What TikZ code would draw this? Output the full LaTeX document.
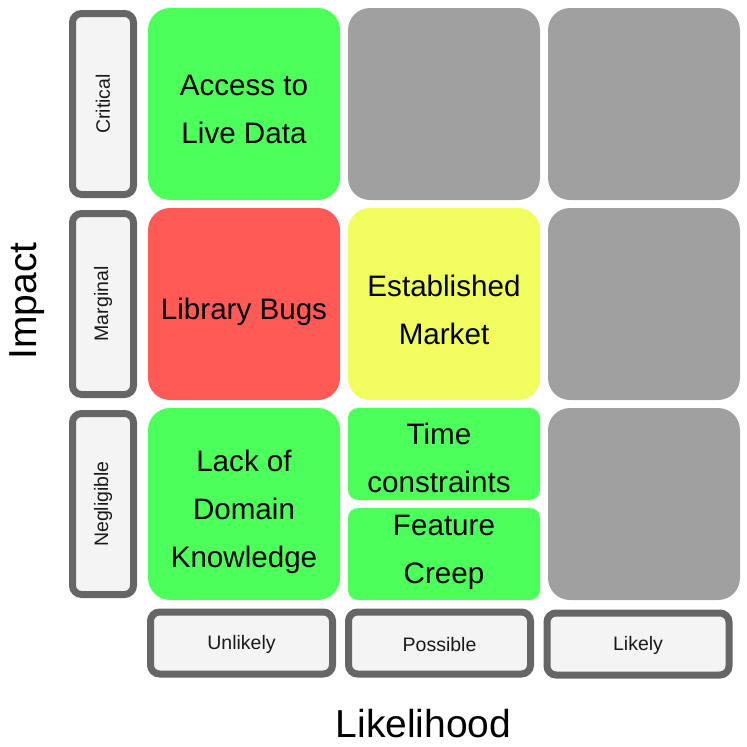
\documentclass[tikz,border=0pt]{standalone}
\usepackage{fontspec}
\setmainfont{Liberation Sans}
\definecolor{cgreen}{RGB}{77,255,90}
\definecolor{cred}{RGB}{255,90,85}
\definecolor{cyellow}{RGB}{240,253,92}
\definecolor{cgray}{RGB}{160,160,160}
\definecolor{lborder}{RGB}{102,102,102}
\definecolor{lfill}{RGB}{244,244,244}
\tikzset{
  cell/.style={rounded corners=22pt, minimum width=192pt, minimum height=192pt, inner sep=0pt, draw=none},
  halfcell/.style={rounded corners=10pt, minimum width=192pt, minimum height=92pt, inner sep=0pt, draw=none, fill=cgreen},
  celltext/.style={font=\fontsize{29.6}{48}\selectfont, align=center, inner sep=0pt},
  rowlab/.style={draw=lborder, fill=lfill, line width=7pt, rounded corners=9pt, minimum width=61pt, minimum height=181pt, inner sep=0pt},
  collab/.style={draw=lborder, fill=lfill, line width=7pt, rounded corners=9pt, minimum width=182pt, minimum height=62pt, inner sep=0pt},
  labtext/.style={font=\fontsize{19.5}{23}\selectfont, text=black!90, inner sep=0pt},
  axistext/.style={font=\fontsize{39}{44}\selectfont, inner sep=0pt}
}
\begin{document}
\begin{tikzpicture}[x=1pt,y=-1pt]
\useasboundingbox (0,0) rectangle (747,747);
% grid cells
\node[cell, fill=cgreen] (c11) at (244,104) {};
\node[cell, fill=cgray] (c12) at (444,104) {};
\node[cell, fill=cgray] (c13) at (644,104) {};
\node[cell, fill=cred] (c21) at (244,304) {};
\node[cell, fill=cyellow] (c22) at (444,304) {};
\node[cell, fill=cgray] (c23) at (644,304) {};
\node[cell, fill=cgreen] (c31) at (244,504) {};
\node[halfcell] (c32a) at (444,454) {};
\node[halfcell] (c32b) at (444,554) {};
\node[cell, fill=cgray] (c33) at (644,504) {};
% cell texts
\node[celltext] (t11) at (244,109) {Access to\\Live Data};
\node[celltext] (t21) at (244,311.5) {Library Bugs};
\node[celltext] (t22) at (444,309.5) {Established\\Market};
\node[celltext] (t31) at (244,512) {Lack of\\Domain\\Knowledge};
\node[celltext] (t32a) at (439,458) {Time\\constraints};
\node[celltext] (t32b) at (444,552) {Feature\\Creep};
% row labels
\node[rowlab] (r1) at (103,104) {};
\node[labtext, rotate=90] at (r1) {Critical};
\node[rowlab] (r2) at (103,304) {};
\node[labtext, rotate=90] at (r2) {Marginal};
\node[rowlab] (r3) at (103,504) {};
\node[labtext, rotate=90] at (r3) {Negligible};
% column labels
\node[collab] (k1) at (241.5,643) {};
\node[labtext] at ([yshift=-1.5pt]k1.center) {Unlikely};
\node[collab] (k2) at (439.5,643) {};
\node[labtext] at ([yshift=-1.5pt]k2.center) {Possible};
\node[collab] (k3) at (638,644) {};
\node[labtext] at ([yshift=-1.5pt]k3.center) {Likely};
% axis titles
\node[axistext, rotate=90] (impact) at (27,301) {Impact};
\node[axistext] (likelihood) at (423.5,723.5) {Likelihood};
\end{tikzpicture}
\end{document}
